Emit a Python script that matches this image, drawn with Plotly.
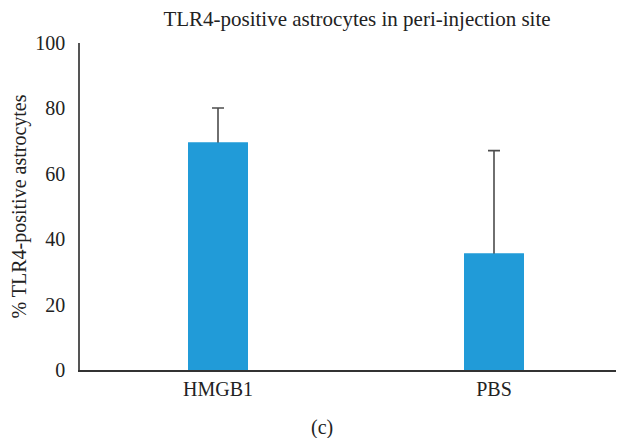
import plotly.graph_objects as go

categories = ["HMGB1", "PBS"]
values = [69.6, 35.6]
errors_plus = [10.5, 31.5]
y_ticks = [0, 20, 40, 60, 80, 100]

title_text = "TLR4-positive astrocytes in peri-injection site"
y_title = "% TLR4-positive astrocytes"
caption = "(c)"

FONT = "Liberation Serif, Times New Roman, serif"
BAR_COLOR = "#219bd8"
# the page body has an 8px margin, so the figure is sized to fill the rest of the window
W, H = 616, 430
ML, MR, MT, MB = 72, 0, 35, 68
PH = H - MT - MB
PW = W - ML - MR

fig = go.Figure()
# bars carrying the (upper-only) error bars; the lower cap sits inside the bar
fig.add_trace(go.Bar(
    x=categories,
    y=values,
    width=0.217,
    marker=dict(color=BAR_COLOR, line=dict(width=0)),
    error_y=dict(type="data", symmetric=False, array=errors_plus,
                 arrayminus=[3] * len(values),
                 color="#4d4d4d", thickness=1.6, width=6),
))
# identical bars on top, hiding the lower cap so the whisker starts at the bar top
fig.add_trace(go.Bar(
    x=categories,
    y=values,
    width=0.217,
    marker=dict(color=BAR_COLOR, line=dict(width=0)),
))

fig.update_layout(
    width=W, height=H,
    barmode="overlay",
    margin=dict(l=ML, r=MR, t=MT, b=MB, autoexpand=False),
    paper_bgcolor="white", plot_bgcolor="white",
    showlegend=False,
    font=dict(family=FONT, color="#222", size=20),
    title=dict(text=title_text, x=349 / W, xref="container", xanchor="center",
               y=1 - 11 / H, yref="container", yanchor="middle",
               font=dict(family=FONT, size=21, color="#222")),
    annotations=[dict(text=caption, x=(314 - ML) / PW, xref="paper", xanchor="center",
                      y=-(419 - (H - MB)) / PH, yref="paper", yanchor="middle", showarrow=False,
                      font=dict(family=FONT, size=20, color="#222"))],
)

fig.update_xaxes(range=[-0.5, 1.471], showline=True, linecolor="#333", linewidth=2,
                 ticks="", showgrid=False, zeroline=False, automargin=False,
                 tickfont=dict(family=FONT, size=20, color="#222"))
fig.update_yaxes(range=[0, 100], tickvals=y_ticks, showline=True, linecolor="#555",
                 linewidth=1.5, ticks="", showgrid=False, zeroline=False, automargin=False,
                 ticklabelstandoff=9,
                 tickfont=dict(family=FONT, size=20, color="#222"),
                 title=dict(text=y_title, standoff=6,
                            font=dict(family=FONT, size=20, color="#222")))

fig.write_html("out.html")
